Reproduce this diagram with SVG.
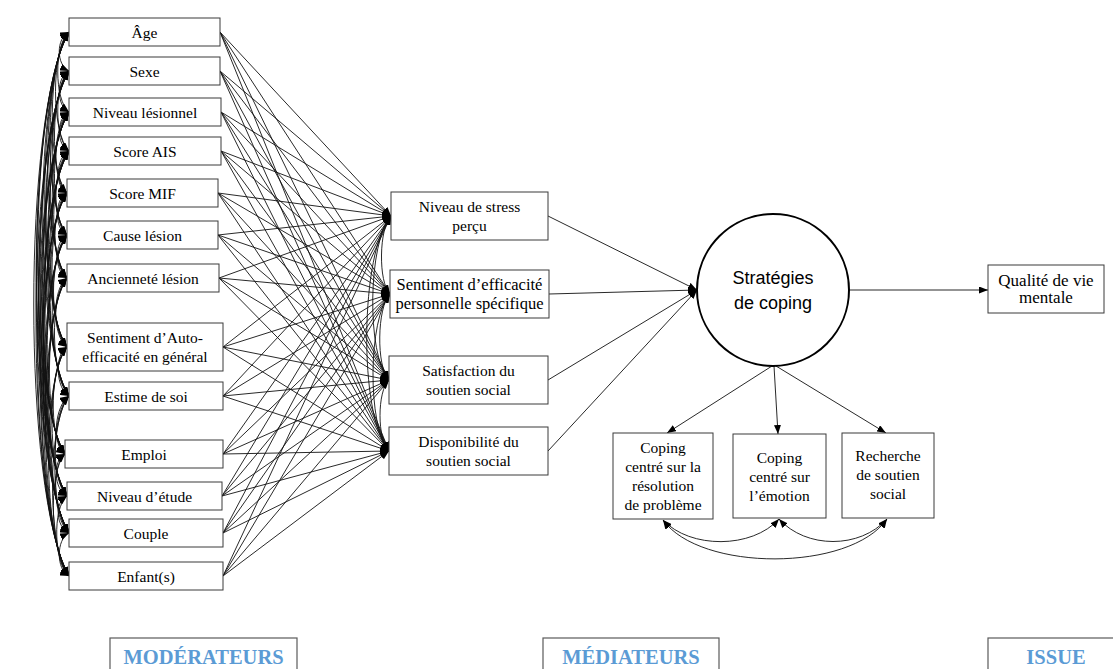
<svg xmlns="http://www.w3.org/2000/svg" width="1113" height="669" viewBox="0 0 1113 669">
<defs>
<marker id="ah" markerUnits="userSpaceOnUse" markerWidth="9" markerHeight="7" refX="9" refY="3.5" orient="auto-start-reverse"><path d="M0,0 L9,3.5 L0,7 z" fill="#000"/></marker>
<style>
.box{fill:#fff;stroke:#3a3a3a;stroke-width:1}
.lab{fill:#fff;stroke:#5a5a5a;stroke-width:1.2}
.t{font-family:"Liberation Serif","Times New Roman",serif;font-size:15.5px;text-anchor:middle;fill:#000}
.s{font-family:"Liberation Sans",Arial,sans-serif;font-size:18px;text-anchor:middle;fill:#000}
.b{font-family:"Liberation Serif","Times New Roman",serif;font-size:20.5px;font-weight:bold;text-anchor:middle;fill:#5B9BD5}
.c{fill:none;stroke:#111;stroke-width:0.9;marker-end:url(#ah)}
.d{fill:none;stroke:#111;stroke-width:0.9;marker-start:url(#ah);marker-end:url(#ah)}
</style>
</defs>
<rect width="1113" height="669" fill="#fff"/>
<g id="connectors">
<g id="mod-to-med">
<path class="c" d="M220,32 L391,216"/><path class="c" d="M220,32 L390,294"/><path class="c" d="M220,32 L389,380"/><path class="c" d="M220,32 L389,451"/>
<path class="c" d="M220,71 L391,216"/><path class="c" d="M220,71 L390,294"/><path class="c" d="M220,71 L389,380"/><path class="c" d="M220,71 L389,451"/>
<path class="c" d="M221,112 L391,216"/><path class="c" d="M221,112 L390,294"/><path class="c" d="M221,112 L389,380"/><path class="c" d="M221,112 L389,451"/>
<path class="c" d="M221,151 L391,216"/><path class="c" d="M221,151 L390,294"/><path class="c" d="M221,151 L389,380"/><path class="c" d="M221,151 L389,451"/>
<path class="c" d="M218,193 L391,216"/><path class="c" d="M218,193 L390,294"/><path class="c" d="M218,193 L389,380"/><path class="c" d="M218,193 L389,451"/>
<path class="c" d="M218,235 L391,216"/><path class="c" d="M218,235 L390,294"/><path class="c" d="M218,235 L389,380"/><path class="c" d="M218,235 L389,451"/>
<path class="c" d="M219,278 L391,216"/><path class="c" d="M219,278 L390,294"/><path class="c" d="M219,278 L389,380"/><path class="c" d="M219,278 L389,451"/>
<path class="c" d="M223,347 L391,216"/><path class="c" d="M223,347 L390,294"/><path class="c" d="M223,347 L389,380"/><path class="c" d="M223,347 L389,451"/>
<path class="c" d="M223,396 L391,216"/><path class="c" d="M223,396 L390,294"/><path class="c" d="M223,396 L389,380"/><path class="c" d="M223,396 L389,451"/>
<path class="c" d="M223,454 L391,216"/><path class="c" d="M223,454 L390,294"/><path class="c" d="M223,454 L389,380"/><path class="c" d="M223,454 L389,451"/>
<path class="c" d="M222,496 L391,216"/><path class="c" d="M222,496 L390,294"/><path class="c" d="M222,496 L389,380"/><path class="c" d="M222,496 L389,451"/>
<path class="c" d="M223,533 L391,216"/><path class="c" d="M223,533 L390,294"/><path class="c" d="M223,533 L389,380"/><path class="c" d="M223,533 L389,451"/>
<path class="c" d="M223,576 L391,216"/><path class="c" d="M223,576 L390,294"/><path class="c" d="M223,576 L389,380"/><path class="c" d="M223,576 L389,451"/>
</g>
<g id="mod-covariances">
<path class="d" d="M69,32 C56,38 56,65 69,71"/>
<path class="d" d="M69,32 C54,44 54,100 69,112"/>
<path class="d" d="M69,32 C51,50 51,133 69,151"/>
<path class="d" d="M69,32 C48,56 46,169 67,193"/>
<path class="d" d="M69,32 C45,62 43,205 67,235"/>
<path class="d" d="M69,32 C42,69 40,241 67,278"/>
<path class="d" d="M69,32 C38,79 36,300 67,347"/>
<path class="d" d="M69,32 C34,87 34,341 69,396"/>
<path class="d" d="M69,32 C30,95 26,391 65,454"/>
<path class="d" d="M69,32 C27,102 25,426 67,496"/>
<path class="d" d="M69,32 C25,107 25,458 69,533"/>
<path class="d" d="M69,32 C22,114 22,494 69,576"/>
<path class="d" d="M69,71 C56,77 56,106 69,112"/>
<path class="d" d="M69,71 C54,83 54,139 69,151"/>
<path class="d" d="M69,71 C51,89 49,175 67,193"/>
<path class="d" d="M69,71 C48,96 46,210 67,235"/>
<path class="d" d="M69,71 C45,102 43,247 67,278"/>
<path class="d" d="M69,71 C40,112 38,306 67,347"/>
<path class="d" d="M69,71 C37,120 37,347 69,396"/>
<path class="d" d="M69,71 C33,128 29,397 65,454"/>
<path class="d" d="M69,71 C30,135 28,432 67,496"/>
<path class="d" d="M69,71 C28,140 28,464 69,533"/>
<path class="d" d="M69,71 C25,147 25,500 69,576"/>
<path class="d" d="M69,112 C56,118 56,145 69,151"/>
<path class="d" d="M69,112 C53,124 51,181 67,193"/>
<path class="d" d="M69,112 C51,130 49,217 67,235"/>
<path class="d" d="M69,112 C48,137 46,253 67,278"/>
<path class="d" d="M69,112 C43,147 41,312 67,347"/>
<path class="d" d="M69,112 C40,155 40,353 69,396"/>
<path class="d" d="M69,112 C36,163 32,403 65,454"/>
<path class="d" d="M69,112 C33,170 31,438 67,496"/>
<path class="d" d="M69,112 C30,175 30,470 69,533"/>
<path class="d" d="M69,112 C27,182 27,506 69,576"/>
<path class="d" d="M69,151 C56,157 54,187 67,193"/>
<path class="d" d="M69,151 C53,164 51,222 67,235"/>
<path class="d" d="M69,151 C50,170 48,259 67,278"/>
<path class="d" d="M69,151 C46,180 44,318 67,347"/>
<path class="d" d="M69,151 C42,188 42,359 69,396"/>
<path class="d" d="M69,151 C38,196 34,409 65,454"/>
<path class="d" d="M69,151 C36,203 34,444 67,496"/>
<path class="d" d="M69,151 C33,208 33,476 69,533"/>
<path class="d" d="M69,151 C30,215 30,512 69,576"/>
<path class="d" d="M67,193 C54,199 54,229 67,235"/>
<path class="d" d="M67,193 C51,206 51,265 67,278"/>
<path class="d" d="M67,193 C47,216 47,324 67,347"/>
<path class="d" d="M67,193 C43,223 45,366 69,396"/>
<path class="d" d="M67,193 C39,232 37,415 65,454"/>
<path class="d" d="M67,193 C36,238 36,451 67,496"/>
<path class="d" d="M67,193 C34,244 36,482 69,533"/>
<path class="d" d="M67,193 C31,250 33,519 69,576"/>
<path class="d" d="M67,235 C54,241 54,272 67,278"/>
<path class="d" d="M67,235 C49,252 49,330 67,347"/>
<path class="d" d="M67,235 C46,259 48,372 69,396"/>
<path class="d" d="M67,235 C42,268 40,421 65,454"/>
<path class="d" d="M67,235 C39,274 39,457 67,496"/>
<path class="d" d="M67,235 C37,280 39,488 69,533"/>
<path class="d" d="M67,235 C34,286 36,525 69,576"/>
<path class="d" d="M67,278 C52,288 52,337 67,347"/>
<path class="d" d="M67,278 C49,296 51,378 69,396"/>
<path class="d" d="M67,278 C45,304 43,428 65,454"/>
<path class="d" d="M67,278 C42,311 42,463 67,496"/>
<path class="d" d="M67,278 C40,316 42,495 69,533"/>
<path class="d" d="M67,278 C37,323 39,531 69,576"/>
<path class="d" d="M67,347 C54,354 56,389 69,396"/>
<path class="d" d="M67,347 C50,363 48,438 65,454"/>
<path class="d" d="M67,347 C47,369 47,474 67,496"/>
<path class="d" d="M67,347 C44,375 46,505 69,533"/>
<path class="d" d="M67,347 C41,381 43,542 69,576"/>
<path class="d" d="M69,396 C55,405 51,445 65,454"/>
<path class="d" d="M69,396 C52,411 50,481 67,496"/>
<path class="d" d="M69,396 C50,417 50,512 69,533"/>
<path class="d" d="M69,396 C47,423 47,549 69,576"/>
<path class="d" d="M65,454 C52,460 54,490 67,496"/>
<path class="d" d="M65,454 C50,466 54,521 69,533"/>
<path class="d" d="M65,454 C47,472 51,558 69,576"/>
<path class="d" d="M67,496 C54,502 56,527 69,533"/>
<path class="d" d="M67,496 C52,508 54,564 69,576"/>
<path class="d" d="M69,533 C56,539 56,570 69,576"/>
</g>
<g id="med-covariances">
<path class="d" d="M391,216 C379,228 378,282 390,294"/>
<path class="d" d="M391,216 C368,241 366,355 389,380"/>
<path class="d" d="M391,216 C360,251 358,416 389,451"/>
<path class="d" d="M390,294 C377,307 376,367 389,380"/>
<path class="d" d="M390,294 C368,318 367,427 389,451"/>
<path class="d" d="M389,380 C377,391 377,440 389,451"/>
</g>
<g id="med-to-coping">
<path class="c" d="M548,216 L697,290"/>
<path class="c" d="M549,294 L697,290"/>
<path class="c" d="M548,380 L697,290"/>
<path class="c" d="M548,451 L697,290"/>
</g>
<g id="coping-out">
<path class="c" d="M849,290 L988,290"/>
<path class="c" d="M772,366 L667,433"/>
<path class="c" d="M774,366 L778,434"/>
<path class="c" d="M776,366 L886,433"/>
<path class="d" d="M663,520 C690,549 752,549 779,519"/>
<path class="d" d="M779,519 C806,549 860,549 887,519"/>
<path class="d" d="M663,520 C700,572 850,572 887,519"/>
</g>
</g>
<g id="n-age"><rect class="box" x="69" y="18" width="151" height="28"/><text class="t" x="144.5" y="37.5">Âge</text></g>
<g id="n-sexe"><rect class="box" x="69" y="57" width="151" height="28"/><text class="t" x="144.5" y="76.5">Sexe</text></g>
<g id="n-niveau-lesionnel"><rect class="box" x="69" y="98" width="152" height="28"/><text class="t" x="145" y="117.5">Niveau lésionnel</text></g>
<g id="n-score-ais"><rect class="box" x="69" y="137" width="152" height="28"/><text class="t" x="145" y="156.5">Score AIS</text></g>
<g id="n-score-mif"><rect class="box" x="67" y="179" width="151" height="28"/><text class="t" x="142.5" y="198.5">Score MIF</text></g>
<g id="n-cause"><rect class="box" x="67" y="221" width="151" height="28"/><text class="t" x="142.5" y="240.5">Cause lésion</text></g>
<g id="n-anciennete"><rect class="box" x="67" y="264" width="152" height="28"/><text class="t" x="143" y="283.5">Ancienneté lésion</text></g>
<g id="n-auto-efficacite"><rect class="box" x="67" y="323" width="156" height="48"/><text class="t" x="145" y="343">Sentiment d’Auto-</text><text class="t" x="145" y="362">efficacité en général</text></g>
<g id="n-estime"><rect class="box" x="69" y="382" width="154" height="28"/><text class="t" x="146" y="401.5">Estime de soi</text></g>
<g id="n-emploi"><rect class="box" x="65" y="440" width="158" height="28"/><text class="t" x="144" y="459.5">Emploi</text></g>
<g id="n-etude"><rect class="box" x="67" y="482" width="155" height="28"/><text class="t" x="144.5" y="501.5">Niveau d’étude</text></g>
<g id="n-couple"><rect class="box" x="69" y="519" width="154" height="28"/><text class="t" x="146" y="538.5">Couple</text></g>
<g id="n-enfants"><rect class="box" x="69" y="562" width="154" height="28"/><text class="t" x="146" y="581.5">Enfant(s)</text></g>
<g id="m-stress"><rect class="box" x="391" y="192" width="157" height="48"/><text class="t" x="469.5" y="212">Niveau de stress</text><text class="t" x="469.5" y="231">perçu</text></g>
<g id="m-sep"><rect class="box" x="390" y="270" width="159" height="48"/><text class="t" x="469.5" y="290" style="font-size:16.5px">Sentiment d’efficacité</text><text class="t" x="469.5" y="309" style="font-size:16.5px">personnelle spécifique</text></g>
<g id="m-satisfaction"><rect class="box" x="389" y="356" width="159" height="48"/><text class="t" x="468.5" y="376">Satisfaction du</text><text class="t" x="468.5" y="395">soutien social</text></g>
<g id="m-disponibilite"><rect class="box" x="389" y="427" width="159" height="48"/><text class="t" x="468.5" y="447">Disponibilité du</text><text class="t" x="468.5" y="466">soutien social</text></g>
<g id="coping"><circle cx="773" cy="290" r="76" fill="#fff" stroke="#000" stroke-width="2"/><text class="s" x="773" y="284">Stratégies</text><text class="s" x="773" y="309">de coping</text></g>
<g id="qualite"><rect class="box" x="988" y="265" width="116" height="48"/><text class="t" x="1046" y="286" style="font-size:17px">Qualité de vie</text><text class="t" x="1046" y="303" style="font-size:17px">mentale</text></g>
<g id="c-probleme"><rect class="box" x="613" y="433" width="100" height="86"/><text class="t" x="663" y="453">Coping</text><text class="t" x="663" y="472">centré sur la</text><text class="t" x="663" y="491">résolution</text><text class="t" x="663" y="510">de problème</text></g>
<g id="c-emotion"><rect class="box" x="733" y="434" width="93" height="84"/><text class="t" x="779.5" y="463">Coping</text><text class="t" x="779.5" y="482">centré sur</text><text class="t" x="779.5" y="501">l’émotion</text></g>
<g id="c-soutien"><rect class="box" x="842" y="433" width="92" height="85"/><text class="t" x="888" y="461">Recherche</text><text class="t" x="888" y="480">de soutien</text><text class="t" x="888" y="499">social</text></g>
<g id="l-moderateurs"><rect class="lab" x="110" y="638" width="187" height="45"/><text class="b" x="203.5" y="664">MODÉRATEURS</text></g>
<g id="l-mediateurs"><rect class="lab" x="543" y="638" width="176" height="45"/><text class="b" x="631" y="664">MÉDIATEURS</text></g>
<g id="l-issue"><rect class="lab" x="988" y="638" width="140" height="45"/><text class="b" x="1056" y="664">ISSUE</text></g>
</svg>
